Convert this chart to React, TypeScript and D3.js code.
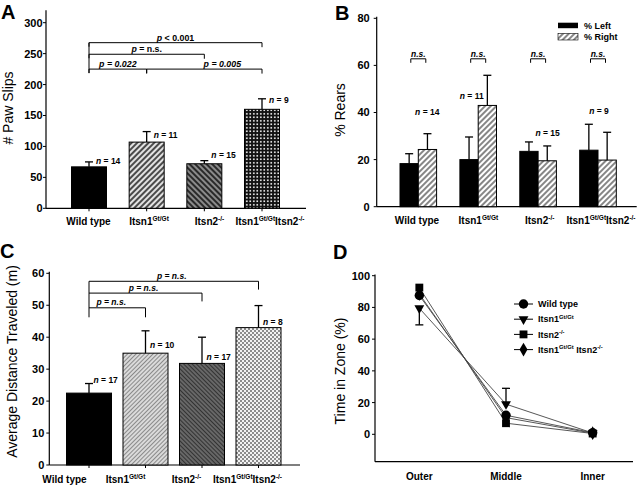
import React from "react";
import * as d3 from "d3";

const FF = "'Liberation Sans', Arial, Helvetica, sans-serif";

// ---------- shared categories ----------
const categories = ["WT", "Itsn1", "Itsn2", "DKO"];
const catLabels: [string, string][][] = [
  [["Wild type", ""]],
  [["Itsn1", "Gt/Gt"]],
  [["Itsn2", "-/-"]],
  [["Itsn1", "Gt/Gt"], ["Itsn2", "-/-"]],
];

// ---------- Panel A: paw slips ----------
const pawSlips = [67, 107, 72, 160];
const pawSlipsSem = [8, 17, 5, 17];
const pawN = [14, 11, 15, 9];
const pawNLabelAt = [71.6, 114.4, 80.5, 171];
const pawTicks = [0, 50, 100, 150, 200, 250, 300];
const pawBracketFrom = [0, 0, 0, 1];
const pawBracketTo = [3, 2, 1, 3];
const pawBracketAt = [267.7, 249, 225, 225];
const pawBracketText: [string, boolean][][] = [
  [["p", true], [" < 0.001", false]],
  [["p", true], [" = n.s.", false]],
  [["p = 0.022", true]],
  [["p = 0.005", true]],
];

// ---------- Panel B: rears ----------
const rearsLeft = [18.3, 20, 23.5, 24];
const rearsLeftSem = [4.2, 9.6, 4, 11];
const rearsRight = [24.3, 43, 19.5, 19.8];
const rearsRightSem = [6.7, 12.8, 6.3, 11.8];
const rearsN = [14, 11, 15, 9];
const rearsNLabelAt = [38.9, 45.9, 30, 39.4];
const rearsNLabelShift = [9, -6.5, 9.5, 1];
const rearsTicks = [0, 20, 40, 60, 80];
const rearsNsAt = 62.8;
const rearsLegend = ["% Left", "% Right"];

// ---------- Panel C: distance ----------
const distance = [22.5, 35, 31.8, 43];
const distanceSem = [3, 7, 8.2, 6.9];
const distN = [17, 10, 17, 8];
const distNLabelAt = [25.6, 36.7, 32.8, 43.9];
const distTicks = [0, 10, 20, 30, 40, 50, 60];
const distBracketTo = [3, 2, 1];
const distBracketAt = [57.5, 53.8, 49.2];

// ---------- Panel D: time in zone ----------
const zones = ["Outer", "Middle", "Inner"];
const zoneWT = [87.5, 12, 1];
const zoneItsn1 = [79.5, 19, 0.8];
const zoneItsn2 = [92.5, 7, 0.5];
const zoneDKO = [88.5, 10.5, 0.7];
const zoneItsn1Sem = [10.5, 10, 0];
const zoneItsn1ErrDir = [-1, 1, 1];
const zoneTicks = [0, 20, 40, 60, 80, 100];
const zoneLegend: [string, string][][] = [
  [["Wild type", ""]],
  [["Itsn1", "Gt/Gt"]],
  [["Itsn2", "-/-"]],
  [["Itsn1", "Gt/Gt"], [" Itsn2", "-/-"]],
];

// ---------- helpers ----------
function SupText({ x, y, parts, size = 10, anchor = "middle" }: any) {
  const kids: any[] = [];
  parts.forEach(([m, s]: [string, string], i: number) => {
    const prevSup = i > 0 && parts[i - 1][1];
    kids.push(
      <tspan key={"m" + i} dy={prevSup ? size * 0.4 : 0}>
        {m}
      </tspan>
    );
    if (s)
      kids.push(
        <tspan key={"s" + i} dy={-size * 0.4} fontSize={size * 0.65}>
          {s}
        </tspan>
      );
  });
  return (
    <text x={x} y={y} textAnchor={anchor} fontFamily={FF} fontWeight="bold" fontSize={size}>
      {kids}
    </text>
  );
}

function NLabel({ x, y, n, anchor = "start" }: any) {
  return (
    <text x={x} y={y} textAnchor={anchor} fontFamily={FF} fontWeight="bold" fontSize={8.5}>
      <tspan fontStyle="italic">n</tspan> = {n}
    </text>
  );
}

function YAxis({ x, scale, ticks, top, bottom, pad = 4 }: any) {
  return (
    <g>
      <line x1={x} x2={x} y1={top} y2={bottom} stroke="#000" strokeWidth={1.2} />
      {ticks.map((t: number) => (
        <g key={t}>
          <line x1={x - 3} x2={x} y1={scale(t)} y2={scale(t)} stroke="#000" strokeWidth={1} />
          <text
            x={x - pad}
            y={scale(t)}
            dy="0.36em"
            textAnchor="end"
            fontFamily={FF}
            fontWeight="bold"
            fontSize={11}
          >
            {t}
          </text>
        </g>
      ))}
    </g>
  );
}

function ErrBar({ x, y0, y1, w = 4 }: any) {
  return (
    <g stroke="#000" strokeWidth={1.3}>
      <line x1={x} x2={x} y1={y0} y2={y1} />
      <line x1={x - w} x2={x + w} y1={y1} y2={y1} />
    </g>
  );
}

function YTitle({ x, y, text, size = 14 }: any) {
  return (
    <text
      transform={`translate(${x},${y}) rotate(-90)`}
      textAnchor="middle"
      fontFamily={FF}
      fontSize={size}
    >
      {text}
    </text>
  );
}

function PanelLetter({ x, y, t }: any) {
  return (
    <text x={x} y={y} fontFamily={FF} fontWeight="bold" fontSize={20}>
      {t}
    </text>
  );
}

export default function App() {
  // ---- Panel A scales ----
  const yA = d3.scaleLinear().domain([0, 300]).range([208.3, 22.7]);
  const xA = d3.scalePoint<string>().domain(categories).range([89, 262]);
  const xAL = d3.scalePoint<string>().domain(categories).range([88.5, 270]);
  const bwA = 35;
  const fillsA = ["#000", "url(#hA1)", "url(#hA2)", "url(#dotA)"];

  // ---- Panel B scales ----
  const yB = d3.scaleLinear().domain([0, 80]).range([206.7, 18.3]);
  const xB = d3.scalePoint<string>().domain(categories).range([418.3, 598]);
  const xBL = d3.scalePoint<string>().domain(categories).range([417, 601]);
  const bwB = 18.3;

  // ---- Panel C scales ----
  const yC = d3.scaleLinear().domain([0, 60]).range([465, 273.3]);
  const xC = d3.scalePoint<string>().domain(categories).range([89, 258.5]);
  const xCL = d3.scalePoint<string>().domain(categories).range([64.5, 247.5]);
  const bwC = 45;
  const fillsC = ["#000", "url(#hC1)", "url(#hC2)", "url(#chkC)"];

  // ---- Panel D scales ----
  const yD = d3.scaleLinear().domain([0, 100]).range([434.3, 275.7]);
  const xD = d3.scalePoint<string>().domain(zones).range([376, 636]).padding(0.5);
  const zoneSeries = [zoneItsn2, zoneDKO, zoneItsn1, zoneWT];
  const symTypes = [d3.symbolSquare, d3.symbolDiamond, d3.symbolTriangle, d3.symbolCircle];
  const symSizes = [62, 55, 42, 70];
  const symRot = [0, 0, 180, 0];
  const legendOrder = [3, 2, 0, 1]; // index into zoneSeries: WT, Itsn1, Itsn2, DKO
  const lineGen = d3
    .line<number>()
    .x((_, i) => xD(zones[i]) as number)
    .y((d) => yD(d));

  return (
    <svg
      width={640}
      height={486}
      style={{ position: "absolute", left: 0, top: 0, background: "#fff" }}
    >
      <defs>
        <pattern id="hA1" width="4" height="4" patternUnits="userSpaceOnUse" patternTransform="rotate(45)">
          <rect width="4" height="4" fill="#e2e2e2" />
          <line x1="2" y1="0" x2="2" y2="4" stroke="#3a3a3a" strokeWidth="1.8" />
        </pattern>
        <pattern id="hA2" width="4" height="4" patternUnits="userSpaceOnUse" patternTransform="rotate(-45)">
          <rect width="4" height="4" fill="#8a8a8a" />
          <line x1="2" y1="0" x2="2" y2="4" stroke="#1e1e1e" strokeWidth="1.8" />
        </pattern>
        <pattern id="dotA" width="3.5" height="3.5" patternUnits="userSpaceOnUse">
          <rect width="3.5" height="3.5" fill="#111" />
          <rect x="1" y="1" width="1.6" height="1.6" fill="#fff" />
        </pattern>
        <pattern id="hB" width="4" height="4" patternUnits="userSpaceOnUse" patternTransform="rotate(45)">
          <rect width="4" height="4" fill="#fff" />
          <line x1="2" y1="0" x2="2" y2="4" stroke="#222" strokeWidth="1.1" />
        </pattern>
        <pattern id="hC1" width="3" height="3" patternUnits="userSpaceOnUse" patternTransform="rotate(45)">
          <rect width="3" height="3" fill="#e8e8e8" />
          <line x1="1.5" y1="0" x2="1.5" y2="3" stroke="#8a8a8a" strokeWidth="1.3" />
        </pattern>
        <pattern id="hC2" width="3" height="3" patternUnits="userSpaceOnUse" patternTransform="rotate(-45)">
          <rect width="3" height="3" fill="#707070" />
          <line x1="1.5" y1="0" x2="1.5" y2="3" stroke="#333" strokeWidth="1.3" />
        </pattern>
        <pattern id="chkC" width="4" height="4" patternUnits="userSpaceOnUse">
          <rect width="4" height="4" fill="#f2f2f2" />
          <rect x="0" y="0" width="2" height="2" fill="#8c8c8c" />
          <rect x="2" y="2" width="2" height="2" fill="#8c8c8c" />
        </pattern>
      </defs>

      {/* ================= Panel A ================= */}
      <PanelLetter x={1} y={19} t="A" />
      <YTitle x={13} y={108} text="# Paw Slips" />
      <YAxis x={46} scale={yA} ticks={pawTicks} top={10.3} bottom={yA(0)} pad={3.5} />
      <line x1={46} x2={306} y1={yA(0)} y2={yA(0)} stroke="#000" strokeWidth={1.2} />
      {categories.map((c, i) => {
        const cx = xA(c) as number;
        return (
          <g key={c}>
            <line x1={cx} x2={cx} y1={yA(0)} y2={yA(0) + 3} stroke="#000" />
            <rect
              x={cx - bwA / 2}
              y={yA(pawSlips[i])}
              width={bwA}
              height={yA(0) - yA(pawSlips[i])}
              fill={fillsA[i]}
              stroke="#000"
              strokeWidth={1}
            />
            <ErrBar x={cx} y0={yA(pawSlips[i])} y1={yA(pawSlips[i] + pawSlipsSem[i])} />
            <NLabel x={cx + 7} y={yA(pawNLabelAt[i])} n={pawN[i]} />
            <SupText x={xAL(c)} y={225} parts={catLabels[i]} size={10} />
          </g>
        );
      })}
      {/* brackets A */}
      <line
        x1={xA(categories[0])}
        x2={xA(categories[0])}
        y1={yA(pawBracketAt[0])}
        y2={yA(pawBracketAt[2]) + 4}
        stroke="#000"
      />
      {pawBracketAt.map((v, i) => {
        const x1 = xA(categories[pawBracketFrom[i]]) as number;
        const x2 = xA(categories[pawBracketTo[i]]) as number;
        const y = yA(v);
        return (
          <g key={i}>
            <path d={`M${x1},${y + 4}V${y}H${x2}V${y + 4.5}`} fill="none" stroke="#000" />
            <text
              x={(x1 + x2) / 2 + (i === 3 ? 18 : 0)}
              y={y - 2}
              textAnchor="middle"
              fontFamily={FF}
              fontWeight="bold"
              fontSize={8.8}
            >
              {pawBracketText[i].map(([t, it], k) => (
                <tspan key={k} fontStyle={it ? "italic" : "normal"}>
                  {t}
                </tspan>
              ))}
            </text>
          </g>
        );
      })}

      {/* ================= Panel B ================= */}
      <PanelLetter x={335} y={20} t="B" />
      <YTitle x={345} y={110} text="% Rears" />
      <YAxis x={376.7} scale={yB} ticks={rearsTicks} top={16.7} bottom={yB(0)} pad={7} />
      <line x1={376.7} x2={636.7} y1={yB(0)} y2={yB(0)} stroke="#000" strokeWidth={1.2} />
      {categories.map((c, i) => {
        const cx = xB(c) as number;
        const ns = yB(rearsNsAt);
        return (
          <g key={c}>
            <rect
              x={cx - bwB}
              y={yB(rearsLeft[i])}
              width={bwB}
              height={yB(0) - yB(rearsLeft[i])}
              fill="#000"
              stroke="#000"
            />
            <ErrBar x={cx - bwB / 2} y0={yB(rearsLeft[i])} y1={yB(rearsLeft[i] + rearsLeftSem[i])} />
            <rect
              x={cx}
              y={yB(rearsRight[i])}
              width={bwB}
              height={yB(0) - yB(rearsRight[i])}
              fill="url(#hB)"
              stroke="#000"
            />
            <ErrBar x={cx + bwB / 2} y0={yB(rearsRight[i])} y1={yB(rearsRight[i] + rearsRightSem[i])} />
            <path d={`M${cx - 7.5},${ns + 4}V${ns}H${cx + 7.5}V${ns + 4}`} fill="none" stroke="#000" />
            <text
              x={cx}
              y={ns - 1.5}
              textAnchor="middle"
              fontFamily={FF}
              fontWeight="bold"
              fontStyle="italic"
              fontSize={8.5}
            >
              n.s.
            </text>
            <NLabel x={cx + rearsNLabelShift[i]} y={yB(rearsNLabelAt[i])} n={rearsN[i]} anchor="middle" />
            <SupText x={xBL(c)} y={224} parts={catLabels[i]} size={10} />
          </g>
        );
      })}
      {/* legend B */}
      <rect x={558} y={22.7} width={20} height={5.5} fill="#000" />
      <text x={584} y={28.5} fontFamily={FF} fontWeight="bold" fontSize={9}>
        {rearsLegend[0]}
      </text>
      <rect x={558} y={33.5} width={20} height={6.5} fill="url(#hB)" stroke="#000" strokeWidth={0.6} />
      <text x={584} y={40} fontFamily={FF} fontWeight="bold" fontSize={9}>
        {rearsLegend[1]}
      </text>

      {/* ================= Panel C ================= */}
      <PanelLetter x={0} y={258} t="C" />
      <YTitle x={17} y={361.5} text="Average Distance Traveled (m)" />
      <YAxis x={49.3} scale={yC} ticks={distTicks} top={271.7} bottom={yC(0)} pad={5} />
      <line x1={49.3} x2={300} y1={yC(0)} y2={yC(0)} stroke="#000" strokeWidth={1.2} />
      {categories.map((c, i) => {
        const cx = xC(c) as number;
        return (
          <g key={c}>
            <line x1={cx} x2={cx} y1={yC(0)} y2={yC(0) + 3} stroke="#000" />
            <rect
              x={cx - bwC / 2}
              y={yC(distance[i])}
              width={bwC}
              height={yC(0) - yC(distance[i])}
              fill={fillsC[i]}
              stroke="#000"
              strokeWidth={1}
            />
            <ErrBar x={cx} y0={yC(distance[i])} y1={yC(distance[i] + distanceSem[i])} />
            <NLabel x={cx + 4.5} y={yC(distNLabelAt[i])} n={distN[i]} />
            <SupText x={xCL(c)} y={482.7} parts={catLabels[i]} size={10} />
          </g>
        );
      })}
      <line
        x1={xC(categories[0])}
        x2={xC(categories[0])}
        y1={yC(distBracketAt[0])}
        y2={yC(distBracketAt[2]) + 9.5}
        stroke="#000"
      />
      {distBracketAt.map((v, i) => {
        const x1 = xC(categories[0]) as number;
        const x2 = xC(categories[distBracketTo[i]]) as number;
        const y = yC(v);
        return (
          <g key={i}>
            <path d={`M${x1},${y}H${x2}V${y + (i === 2 ? 9.5 : 8.3)}`} fill="none" stroke="#000" />
            <text
              x={(x1 + x2) / 2 - (i === 2 ? 6 : 2)}
              y={y - 2.5}
              textAnchor="middle"
              fontFamily={FF}
              fontWeight="bold"
              fontStyle="italic"
              fontSize={8.5}
            >
              p = n.s.
            </text>
          </g>
        );
      })}

      {/* ================= Panel D ================= */}
      <PanelLetter x={333} y={259} t="D" />
      <YTitle x={345} y={371} text="Time in Zone (%)" />
      <YAxis x={375} scale={yD} ticks={zoneTicks} top={274.5} bottom={461.7} pad={5} />
      <line x1={375} x2={633} y1={461.7} y2={461.7} stroke="#000" strokeWidth={1.2} />
      {zones.map((z) => (
        <text
          key={z}
          x={xD(z)}
          y={480}
          textAnchor="middle"
          fontFamily={FF}
          fontWeight="bold"
          fontSize={10}
        >
          {z}
        </text>
      ))}
      {zoneSeries.map((s, k) => (
        <path key={k} d={lineGen(s) || ""} fill="none" stroke="#444" strokeWidth={0.9} />
      ))}
      {zones.map((z, i) =>
        zoneItsn1Sem[i] > 0 ? (
          <ErrBar
            key={z}
            x={xD(z)}
            y0={yD(zoneItsn1[i])}
            y1={yD(zoneItsn1[i] + zoneItsn1ErrDir[i] * zoneItsn1Sem[i])}
          />
        ) : null
      )}
      {zoneSeries.map((s, k) =>
        s.map((v, i) => (
          <path
            key={k + "-" + i}
            d={d3.symbol().type(symTypes[k]).size(symSizes[k])() || ""}
            transform={`translate(${xD(zones[i])},${yD(v)}) rotate(${symRot[k]})`}
            fill="#000"
          />
        ))
      )}
      {/* legend D */}
      {legendOrder.map((k, r) => {
        const y = 304 + r * 15.2;
        return (
          <g key={r}>
            <line x1={514} x2={533} y1={y} y2={y} stroke="#000" strokeWidth={1} />
            <path
              d={d3.symbol().type(symTypes[k]).size(symSizes[k])() || ""}
              transform={`translate(523.5,${y}) rotate(${symRot[k]})`}
              fill="#000"
            />
            <SupText x={538} y={y + 3.2} parts={zoneLegend[r]} size={9} anchor="start" />
          </g>
        );
      })}
    </svg>
  );
}
